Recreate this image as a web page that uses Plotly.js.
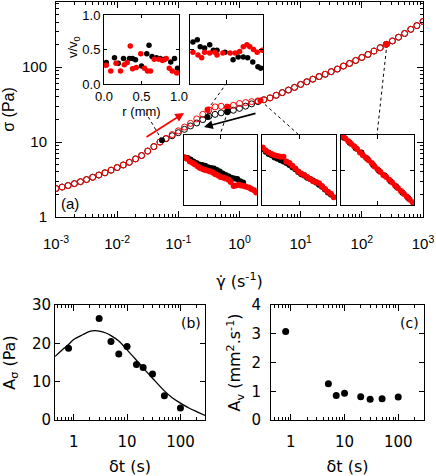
<!DOCTYPE html>
<html><head><meta charset="utf-8">
<script src="https://cdn.plot.ly/plotly-3.0.1.min.js"></script>
<style>html,body{margin:0;padding:0;background:#fff}#chart{width:436px;height:476px}</style>
</head><body><div id="chart"></div>
<script>
// ---------- data: flow curve (panel a) ----------
const shearRate = [0.001,0.00126,0.00158,0.002,0.00251,0.00316,0.00398,0.00501,0.00631,0.00794,
  0.01,0.0126,0.0158,0.02,0.0251,0.0316,0.0398,0.0501,0.0631,0.0794,
  0.1,0.126,0.158,0.2,0.251,0.316,0.398,0.501,0.631,0.794,
  1,1.26,1.58,2,2.51,3.16,3.98,5.01,6.31,7.94,
  10,12.6,15.8,20,25.1,31.6,39.8,50.1,63.1,79.4,
  100,126,158,200,251,316,398,501,631,794,1000];
const stressUp = [2.40,2.51,2.63,2.79,2.96,3.16,3.39,3.63,3.89,4.22,
  4.57,4.95,5.37,5.96,6.61,7.59,8.71,10.0,11.22,12.59,
  14.13,15.85,17.78,20.42,23.44,26.92,29.51,30.06,29.38,30.90,
  32.73,33.73,34.67,35.48,36.73,38.90,42.17,45.71,49.55,53.70,
  58.88,63.83,69.18,74.99,80.35,87.10,94.41,103.5,112.2,123.0,
  134.9,147.9,164.1,182.0,201.8,223.9,251.2,281.8,319.9,358.9,407.4];
const stressDown = [2.40,2.51,2.63,2.79,2.96,3.16,3.39,3.63,3.89,4.22,
  4.57,4.95,5.37,5.96,6.61,7.59,8.71,10.0,11.09,12.16,
  13.34,14.79,16.41,17.99,19.95,22.13,23.44,24.55,25.41,26.61,
  28.18,30.20,32.36,34.67,36.73,38.90,42.17,45.71,49.55,53.70,
  58.88,63.83,69.18,74.99,80.35,87.10,94.41,103.5,112.2,123.0,
  134.9,147.9,164.1,182.0,201.8,223.9,251.2,281.8,319.9,358.9,407.4];
const markedRateDown = [0.054,0.30,0.64];
const markedStressDown = [10.6,21.7,25.5];
const markedRateUp = [0.30,0.64,2.2,257];
const markedStressUp = [27.0,29.4,36.0,204];

// ---------- data: velocity-profile insets (normalised box coords) ----------
const in1BlackR = [0.03,0.14,0.19,0.26,0.34,0.38,0.42,0.50,0.57,0.60,0.64,0.70,0.75,0.81,0.89,0.94,0.98];
const in1BlackV = [0.31,0.38,0.30,0.37,0.37,0.37,0.35,0.26,0.44,0.56,0.40,0.38,0.37,0.36,0.32,0.37,0.23];
const in1RedR = [0.03,0.09,0.16,0.22,0.27,0.31,0.35,0.38,0.43,0.49,0.54,0.58,0.62,0.67,0.73,0.78,0.83,0.87,0.91,0.97];
const in1RedV = [0.27,0.19,0.30,0.19,0.28,0.31,0.55,0.22,0.24,0.44,0.23,0.19,0.19,0.36,0.36,0.34,0.37,0.23,0.19,0.16];

const in2BlackR = [0.04,0.10,0.14,0.20,0.27,0.32,0.37,0.48,0.59,0.66,0.73,0.79,0.86,0.93,0.97];
const in2BlackV = [0.61,0.64,0.54,0.52,0.57,0.49,0.49,0.46,0.35,0.39,0.39,0.38,0.32,0.25,0.23];
const in2RedR = [0.04,0.11,0.16,0.20,0.27,0.34,0.37,0.45,0.55,0.62,0.68,0.73,0.78,0.82,0.87,0.92,0.99];
const in2RedV = [0.46,0.42,0.38,0.46,0.45,0.46,0.42,0.45,0.45,0.45,0.47,0.54,0.57,0.54,0.50,0.46,0.49];

const b1RedX = [0.01,0.04,0.08,0.12,0.15,0.19,0.22,0.26,0.29,0.33,0.36,0.40,0.43,0.47,0.50,0.54,0.57,0.61,0.64,0.68,0.71,0.75,0.78,0.82,0.85,0.89,0.92,0.96,0.99];
const b1RedY = [0.68,0.66,0.62,0.60,0.58,0.55,0.53,0.51,0.50,0.49,0.48,0.46,0.44,0.42,0.40,0.39,0.38,0.36,0.33,0.27,0.28,0.29,0.28,0.27,0.26,0.25,0.23,0.21,0.18];
const b1BlackX = [0.01,0.05,0.09,0.13,0.17,0.21,0.25,0.29,0.33,0.37,0.41,0.45,0.49,0.53,0.57,0.61,0.65,0.69,0.73,0.77,0.81];
const b1BlackY = [0.68,0.67,0.65,0.62,0.60,0.58,0.57,0.56,0.54,0.53,0.52,0.50,0.48,0.45,0.43,0.41,0.39,0.38,0.37,0.34,0.32];

const b2RedX = [0.01,0.05,0.09,0.13,0.17,0.21,0.25,0.29,0.33,0.37,0.41,0.45,0.49,0.53,0.57,0.61,0.65,0.69,0.73,0.77,0.81,0.85,0.89,0.93,0.97];
const b2RedY = [0.82,0.78,0.75,0.73,0.71,0.70,0.69,0.69,0.62,0.60,0.56,0.52,0.48,0.45,0.43,0.40,0.37,0.34,0.33,0.31,0.27,0.23,0.19,0.16,0.11];
const b2BlackX = [0.01,0.05,0.09,0.13,0.17,0.21,0.25,0.29,0.33,0.37,0.41,0.45,0.49,0.53,0.57,0.61,0.65,0.69,0.73,0.77,0.81,0.85,0.89,0.93];
const b2BlackY = [0.80,0.76,0.73,0.71,0.68,0.66,0.64,0.62,0.60,0.57,0.54,0.51,0.47,0.44,0.42,0.39,0.37,0.35,0.32,0.29,0.26,0.22,0.18,0.15];

const b3RedX = [0.02,0.06,0.10,0.14,0.18,0.22,0.26,0.30,0.34,0.38,0.42,0.46,0.50,0.54,0.58,0.62,0.66,0.70,0.74,0.78,0.82,0.86,0.90,0.94,0.98];
const b3RedY = [0.99,0.95,0.91,0.87,0.84,0.80,0.75,0.71,0.68,0.64,0.60,0.55,0.51,0.47,0.43,0.40,0.36,0.32,0.28,0.24,0.20,0.16,0.12,0.08,0.04];
const b3BlackX = [0.04,0.12,0.20,0.28,0.36,0.44,0.52,0.60,0.68,0.76,0.84,0.92];
const b3BlackY = [0.96,0.89,0.81,0.75,0.66,0.57,0.49,0.42,0.34,0.26,0.18,0.10];

// ---------- data: panels (b) and (c) ----------
const dtB = [0.8,3,5,7,10,15,20,30,50,100];
const aSigma = [18.7,26.5,20.5,17.2,19.2,14.5,13.7,12.0,6.3,3.1];
const dtFit = [0.45,0.6,0.8,1,1.5,2,2.5,3,4,5,7,10,15,20,30,50,70,100,150,200,290];
const aSigmaFit = [16.6,18.2,19.7,21.0,22.3,23.1,23.3,23.2,22.7,22.0,20.6,18.3,15.6,13.6,10.9,7.6,5.8,4.4,3.0,2.2,1.2];
const dtC = [0.8,5,7,10,20,30,50,100];
const aV = [3.08,1.26,0.85,0.93,0.81,0.72,0.74,0.80];

// ---------- layout helpers ----------
const W = 436, H = 476;
const dx = (a, b) => [a / W, b / W];
const dy = (top, bot) => [1 - bot / H, 1 - top / H];
const PX = p => p / W, PY = p => 1 - p / H;
const M = {L:56, R:423, T:2, B:217, x0:-3, x1:3, y0:0, y1:2.87};
const mainPix = (x, y) => [M.L + (Math.log10(x) - M.x0) / (M.x1 - M.x0) * (M.R - M.L),
                           M.B - (Math.log10(y) - M.y0) / (M.y1 - M.y0) * (M.B - M.T)];
function minorLog(lo, hi) { const v = []; for (let e = lo; e < hi; e++) for (let m = 2; m <= 9; m++) v.push(m * Math.pow(10, e)); return v; }

const FA = 'Liberation Sans, Arial, sans-serif';
const FB = 'DejaVu Sans, Verdana, sans-serif';
const RED = '#ff0000', BLK = '#000000';

const baseAx = {showline:true, linecolor:'#000', linewidth:1, mirror:'allticks', ticks:'inside',
  ticklen:6, tickcolor:'#000', showgrid:false, zeroline:false};

const traces = [
  {x: shearRate, y: stressDown, xaxis:'x', yaxis:'y', mode:'markers', type:'scatter',
   marker:{symbol:'circle-open', size:6, color:BLK, line:{width:1}}},
  {x: shearRate, y: stressUp, xaxis:'x', yaxis:'y', mode:'markers', type:'scatter',
   marker:{symbol:'circle-open', size:6, color:RED, line:{width:1}}},
  {x: markedRateUp, y: markedStressUp, xaxis:'x', yaxis:'y', mode:'markers', type:'scatter',
   marker:{symbol:'circle', size:6, color:RED}},
  {x: markedRateDown, y: markedStressDown, xaxis:'x', yaxis:'y', mode:'markers', type:'scatter',
   marker:{symbol:'circle', size:6, color:BLK}},
];
function pair(xa, ya, bx, by, rx, ry, sz) {
  traces.push({x: bx, y: by, xaxis:xa, yaxis:ya, mode:'markers', type:'scatter', marker:{size:sz, color:BLK}});
  traces.push({x: rx, y: ry, xaxis:xa, yaxis:ya, mode:'markers', type:'scatter', marker:{size:sz, color:RED}});
}
pair('x2','y2', in1BlackR, in1BlackV, in1RedR, in1RedV, 5.5);
pair('x3','y3', in2BlackR, in2BlackV, in2RedR, in2RedV, 5.5);
pair('x4','y4', b1BlackX, b1BlackY, b1RedX, b1RedY, 6);
pair('x5','y5', b2BlackX, b2BlackY, b2RedX, b2RedY, 6);
pair('x6','y6', b3BlackX, b3BlackY, b3RedX, b3RedY, 6);
traces.push({x: dtFit, y: aSigmaFit, xaxis:'x7', yaxis:'y7', mode:'lines', type:'scatter',
  line:{color:BLK, width:1.3, shape:'spline'}});
traces.push({x: dtB, y: aSigma, xaxis:'x7', yaxis:'y7', mode:'markers', type:'scatter',
  marker:{size:7, color:BLK}});
traces.push({x: dtC, y: aV, xaxis:'x8', yaxis:'y8', mode:'markers', type:'scatter',
  marker:{size:7, color:BLK}});

const boxAx = (dom, anchor) => Object.assign({}, baseAx, {domain: dom, anchor: anchor, range:[0,1],
  tickvals:[0.5], showticklabels:false, ticklen:4, mirror:'ticks'});

const decLabels = ['10<sup>-3</sup>','10<sup>-2</sup>','10<sup>-1</sup>','10<sup>0</sup>','10<sup>1</sup>','10<sup>2</sup>','10<sup>3</sup>'];

const layout = {
  width: W, height: H, margin:{l:0, r:0, t:0, b:0}, showlegend:false,
  paper_bgcolor:'#fff', plot_bgcolor:'#fff',
  font:{family:FA, color:'#000'},
  xaxis: Object.assign({}, baseAx, {type:'log', domain: dx(M.L, M.R), anchor:'y', range:[M.x0, M.x1],
    tickvals:[0.001,0.01,0.1,1,10,100,1000], ticktext: decLabels, tickfont:{size:15, family:FA},
    ticklabelstandoff:13,
    minor:{tickvals: minorLog(-3,3), ticks:'inside', ticklen:3, tickcolor:'#000'},
    title:{text:'γ̇ (s<sup>-1</sup>)', font:{size:16, family:'DejaVu Sans, sans-serif'}, standoff:24}}),
  yaxis: Object.assign({}, baseAx, {type:'log', domain: dy(M.T, M.B), anchor:'x', range:[M.y0, M.y1],
    tickvals:[1,10,100], ticktext:['1','10','100'], tickfont:{size:15, family:FA},
    ticklabelstandoff:5,
    minor:{tickvals: minorLog(0,3), ticks:'inside', ticklen:3, tickcolor:'#000'},
    title:{text:'σ (Pa)', font:{size:16, family:FA}, standoff:7}}),
  xaxis2: Object.assign({}, baseAx, {domain: dx(104,179), anchor:'y2', range:[0,1], dtick:0.5, tickformat:'.1f',
    ticklen:3, mirror:'ticks', tickfont:{size:13, family:FA},
    title:{text:'r (mm)', font:{size:13, family:FA}, standoff:2}}),
  yaxis2: Object.assign({}, baseAx, {domain: dy(15,84), anchor:'x2', range:[0,1], dtick:0.5, tickformat:'.1f',
    ticklen:3, mirror:'ticks', tickfont:{size:13, family:FA}}),
  xaxis3: boxAx(dx(190,263), 'y3'), yaxis3: boxAx(dy(15,84), 'x3'),
  xaxis4: boxAx(dx(184,257), 'y4'), yaxis4: boxAx(dy(135,205), 'x4'),
  xaxis5: boxAx(dx(262,336), 'y5'), yaxis5: boxAx(dy(135,205), 'x5'),
  xaxis6: boxAx(dx(341,414), 'y6'), yaxis6: boxAx(dy(135,205), 'x6'),
  xaxis7: Object.assign({}, baseAx, {type:'log', domain: dx(55,205), anchor:'y7', range:[-0.35,2.46],
    tickvals:[1,10,100], ticktext:['1','10','100'], tickfont:{size:15, family:FB},
    ticklabelstandoff:8,
    minor:{tickvals: minorLog(-1,3), ticks:'inside', ticklen:3, tickcolor:'#000'},
    title:{text:'δt (s)', font:{size:16, family:FB}, standoff:14}}),
  yaxis7: Object.assign({}, baseAx, {domain: dy(305,420), anchor:'x7', range:[0,30], dtick:10,
    tickfont:{size:15, family:FB}, ticklen:5,
    title:{text:'A<sub>σ</sub> (Pa)', font:{size:16, family:FB}, standoff:12}}),
  xaxis8: Object.assign({}, baseAx, {type:'log', domain: dx(271,424), anchor:'y8', range:[-0.37,2.48],
    tickvals:[1,10,100], ticktext:['1','10','100'], tickfont:{size:15, family:FB},
    ticklabelstandoff:8,
    minor:{tickvals: minorLog(-1,3), ticks:'inside', ticklen:3, tickcolor:'#000'},
    title:{text:'δt (s)', font:{size:16, family:FB}, standoff:14}}),
  yaxis8: Object.assign({}, baseAx, {domain: dy(305,420), anchor:'x8', range:[0,4], dtick:1,
    tickfont:{size:15, family:FB}, ticklen:5, ticklabelstandoff:6,
    title:{text:'A<sub>v</sub> (mm<sup>2</sup>.s<sup>-1</sup>)', font:{size:16, family:FB}, standoff:6}}),
  annotations: [
    {text:'v/v<sub>0</sub>', xref:'paper', yref:'paper', x:PX(74), y:PY(47), xanchor:'center', yanchor:'middle',
     textangle:-90, showarrow:false, font:{size:13, family:FA}},
    {text:'(a)', xref:'paper', yref:'paper', x:PX(70), y:PY(203), xanchor:'center', yanchor:'middle',
     showarrow:false, font:{size:15, family:FA}},
    {text:'(b)', xref:'paper', yref:'paper', x:PX(191), y:PY(323), xanchor:'center', yanchor:'middle',
     showarrow:false, font:{size:14, family:FB}},
    {text:'(c)', xref:'paper', yref:'paper', x:PX(409), y:PY(323), xanchor:'center', yanchor:'middle',
     showarrow:false, font:{size:14, family:FB}},
    {text:'', xref:'paper', yref:'paper', x:PX(184), y:PY(113), ax:-39, ay:25, showarrow:true,
     arrowhead:2, arrowsize:1.1, arrowwidth:1.6, arrowcolor:RED},
    {text:'', xref:'paper', yref:'paper', x:PX(204), y:PY(127), ax:53, ay:-14, showarrow:true,
     arrowhead:2, arrowsize:1.1, arrowwidth:1.6, arrowcolor:BLK},
  ],
  shapes: []
};
// dotted connectors from marked points to the insets
const links = [
  [markedRateDown[0], markedStressDown[0], 146, 113],
  [markedRateUp[0], markedStressUp[0], 226, 84],
  [markedRateDown[2], markedStressDown[2], 220, 135],
  [markedRateUp[2], markedStressUp[2], 299, 135],
  [markedRateUp[3], markedStressUp[3], 377, 135],
];
links.forEach(([gx, sy, ex, ey]) => {
  const [px, py] = mainPix(gx, sy);
  layout.shapes.push({type:'line', xref:'paper', yref:'paper', x0:PX(px), y0:PY(py), x1:PX(ex), y1:PY(ey),
    line:{color:'#000', width:1, dash:'dot'}, layer:'below'});
});

Plotly.newPlot('chart', traces, layout, {staticPlot:true, displayModeBar:false});
</script></body></html>
